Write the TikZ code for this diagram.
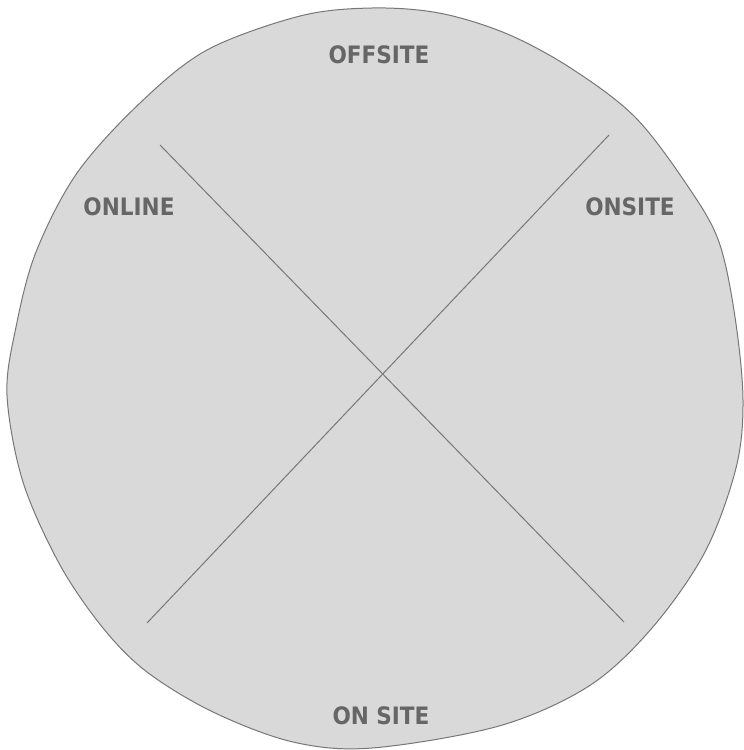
\documentclass[tikz,border=0pt]{standalone}
\usepackage{fontspec}
\newfontfamily\lblfont{DejaVu Sans Condensed}[BoldFont={DejaVu Sans Condensed Bold}]
\definecolor{blobfill}{HTML}{D9D9D9}
\definecolor{blobline}{HTML}{777777}
\definecolor{lbltext}{HTML}{666666}
\tikzset{
  lbl/.style={font=\lblfont\bfseries\fontsize{24}{24}\selectfont, text=lbltext, inner sep=0pt},
  divider/.style={draw=blobline, line width=1pt}
}
\begin{document}
\begin{tikzpicture}[x=1pt,y=-1pt]
\useasboundingbox (0,0) rectangle (744,750);
\draw[fill=blobfill, draw=blobline, line width=1pt] plot[smooth cycle, tension=0.55] coordinates {
(372,8) (439,13) (505,33) (569,67) (635,117) (689,188) (719,242) (735,317) (743,400) (736,468) (705,552) (652,628) (589,686) (499,726) (372,748) (293,742) (213,712) (147,672) (103,628) (60,565) (23,482) (7,395) (16,327) (36,252) (77,173) (140,103) (207,50) (300,16)};
\coordinate (a1) at (160,145);
\coordinate (a2) at (624,622);
\coordinate (b1) at (609,135);
\coordinate (b2) at (147,623);
\draw[divider] (a1) -- (a2);
\draw[divider] (b1) -- (b2);
\node[lbl] (offsite) at (379,55) {OFFSITE};
\node[lbl] (online) at (129,207) {ONLINE};
\node[lbl] (onsite) at (630,207) {ONSITE};
\node[lbl] (onsite2) at (381,716) {ON SITE};
\end{tikzpicture}
\end{document}
